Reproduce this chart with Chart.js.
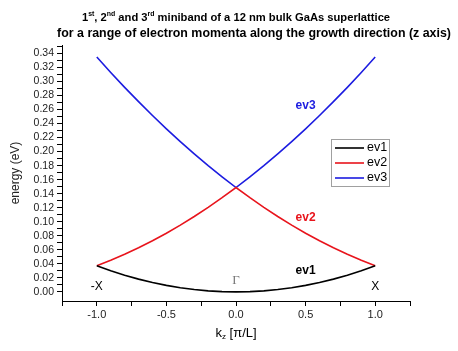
<!DOCTYPE html>
<html>
<head>
<meta charset="utf-8">
<script src="https://cdn.jsdelivr.net/npm/chart.js@4.4.1/dist/chart.umd.min.js"></script>
<style>
  html, body { margin: 0; padding: 0; background: #fff; }
  #caja { width: 458px; height: 351px; }
</style>
</head>
<body>
<div id="caja"><canvas id="grafico"></canvas></div>
<script>
// Valores (k_z en unidades de pi/L, energia en eV)
const kz  = [-1.0, -0.9, -0.8, -0.7, -0.6, -0.5, -0.4, -0.3, -0.2, -0.1, 0.0,
              0.1,  0.2,  0.3,  0.4,  0.5,  0.6,  0.7,  0.8,  0.9, 1.0];
const ev1 = [0.0372, 0.0301, 0.0238, 0.0182, 0.0134, 0.0093, 0.0060, 0.0033, 0.0015, 0.0004, 0.0000,
             0.0004, 0.0015, 0.0033, 0.0060, 0.0093, 0.0134, 0.0182, 0.0238, 0.0301, 0.0372];
const ev2 = [0.0372, 0.0450, 0.0536, 0.0629, 0.0729, 0.0837, 0.0952, 0.1075, 0.1205, 0.1343, 0.1488,
             0.1343, 0.1205, 0.1075, 0.0952, 0.0837, 0.0729, 0.0629, 0.0536, 0.0450, 0.0372];
const ev3 = [0.3348, 0.3129, 0.2916, 0.2712, 0.2515, 0.2325, 0.2143, 0.1968, 0.1800, 0.1641, 0.1488,
             0.1641, 0.1800, 0.1968, 0.2143, 0.2325, 0.2515, 0.2712, 0.2916, 0.3129, 0.3348];

const nombres = ["ev1", "ev2", "ev3"];
const colores = ["#000000", "#e8141c", "#1c1ce0"];
const series  = [ev1, ev2, ev3];

const fuente = "'Liberation Sans', Arial, sans-serif";

// Texto con superindices / subindices
function textoRico(ctx, partes, cx, y, size, peso) {
  let ancho = 0;
  partes.forEach(p => {
    ctx.font = `${peso} ${p.s ? size * 0.62 : size}px ${fuente}`;
    p.w = ctx.measureText(p.t).width;
    ancho += p.w;
  });
  let x = cx - ancho / 2;
  partes.forEach(p => {
    ctx.font = `${peso} ${p.s ? size * 0.62 : size}px ${fuente}`;
    let dy = 0;
    if (p.s === "sup") dy = -size * 0.38;
    if (p.s === "sub") dy = size * 0.3;
    ctx.fillText(p.t, x, y + dy);
    x += p.w;
  });
}

const pluginTextos = {
  id: "textos",
  afterDraw(chart) {
    const ctx = chart.ctx;
    const sx = chart.scales.x, sy = chart.scales.y;
    ctx.save();
    ctx.fillStyle = "#000";
    ctx.textBaseline = "middle";
    ctx.textAlign = "left";

    // titulo en dos lineas
    textoRico(ctx, [
      { t: "1" }, { t: "st", s: "sup" }, { t: ", 2" }, { t: "nd", s: "sup" },
      { t: " and 3" }, { t: "rd", s: "sup" },
      { t: " miniband of a 12 nm bulk GaAs superlattice" }
    ], 236, 18, 11.2, "bold");
    textoRico(ctx, [
      { t: "for a range of electron momenta along the growth direction (z axis)" }
    ], 254, 34, 12.4, "bold");

    // titulo eje x
    textoRico(ctx, [{ t: "k" }, { t: "z", s: "sub" }, { t: " [\u03c0/L]" }], 236, 333, 13, "normal");

    // etiquetas de las curvas
    ctx.textAlign = "center";
    ctx.font = `bold 12px ${fuente}`;
    const etiquetas = [[0.5, 0.030], [0.5, 0.106], [0.5, 0.266]];
    etiquetas.forEach((e, i) => {
      ctx.fillStyle = colores[i];
      ctx.fillText(nombres[i], sx.getPixelForValue(e[0]), sy.getPixelForValue(e[1]));
    });

    // puntos de simetria
    ctx.fillStyle = "#000";
    ctx.font = `12px ${fuente}`;
    ctx.fillText("-X", sx.getPixelForValue(-1), sy.getPixelForValue(0.007));
    ctx.fillText("X", sx.getPixelForValue(1), sy.getPixelForValue(0.007));
    ctx.fillStyle = "#777";
    ctx.font = `13px 'Liberation Serif', 'DejaVu Serif', serif`;
    ctx.fillText("\u0393", sx.getPixelForValue(0), sy.getPixelForValue(0.016));

    // leyenda
    const lx = 331, ly = 139, lw = 58, lh = 47;
    ctx.strokeStyle = "#a0a0a0";
    ctx.lineWidth = 1;
    ctx.strokeRect(lx + 0.5, ly + 0.5, lw, lh);
    ctx.textAlign = "left";
    ctx.font = `12.5px ${fuente}`;
    nombres.forEach((n, i) => {
      const yy = ly + 9 + i * 15;
      ctx.strokeStyle = colores[i];
      ctx.lineWidth = 1.6;
      ctx.beginPath();
      ctx.moveTo(lx + 4, yy);
      ctx.lineTo(lx + 33, yy);
      ctx.stroke();
      ctx.fillStyle = "#000";
      ctx.fillText(n, lx + 36, yy);
    });
    ctx.restore();
  }
};

const ctx = document.getElementById("grafico").getContext("2d");

new Chart(ctx, {
  type: "line",
  data: {
    datasets: series.map((s, i) => ({
      label: nombres[i],
      data: kz.map((k, j) => ({ x: k, y: s[j] })),
      borderColor: colores[i],
      borderWidth: 1.6,
      pointRadius: 0,
      tension: 0,
      fill: false
    }))
  },
  options: {
    responsive: true,
    maintainAspectRatio: false,
    animation: false,
    layout: { padding: { top: 45, right: 48, left: 0, bottom: 0 } },
    plugins: {
      legend: { display: false },
      title: { display: false },
      tooltip: { enabled: false }
    },
    scales: {
      x: {
        type: "linear",
        min: -1.25,
        max: 1.25,
        afterBuildTicks: scale => {
          const t = [];
          for (let i = -5; i <= 5; i++) t.push({ value: i * 0.25 });
          scale.ticks = t;
        },
        afterFit: scale => { scale.height = 50; },
        grid: { drawOnChartArea: false, drawTicks: true, tickLength: 5, color: "#000" },
        border: { display: true, color: "#000", width: 1 },
        ticks: {
          autoSkip: false,
          maxRotation: 0,
          padding: 2,
          color: "#222",
          font: { family: fuente, size: 11 },
          callback: v => (Math.round(v * 4) % 2 === 0 ? v.toFixed(1) : "")
        }
      },
      y: {
        min: -0.013,
        max: 0.352,
        afterBuildTicks: scale => {
          const t = [];
          for (let i = 0; i <= 35; i++) t.push({ value: i / 100 });
          scale.ticks = t;
        },
        afterFit: scale => { scale.width = 62; },
        grid: { drawOnChartArea: false, drawTicks: true, tickLength: 5, color: "#000" },
        border: { display: true, color: "#000", width: 1 },
        title: {
          display: true,
          text: "energy (eV)",
          color: "#222",
          font: { family: fuente, size: 12 },
          padding: { top: 8, bottom: 0 }
        },
        ticks: {
          autoSkip: false,
          padding: 3,
          color: "#222",
          font: { family: fuente, size: 10.5 },
          callback: v => (Math.round(v * 100) % 2 === 0 ? v.toFixed(2) : "")
        }
      }
    }
  },
  plugins: [pluginTextos]
});
</script>
</body>
</html>
